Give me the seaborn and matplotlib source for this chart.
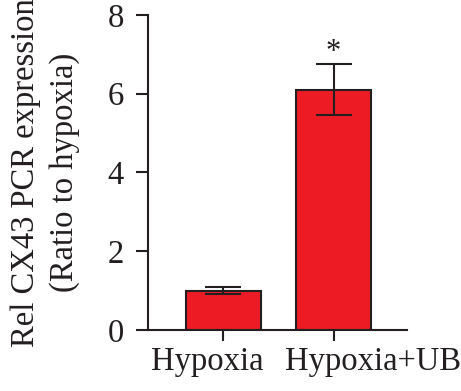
import matplotlib
matplotlib.use("Agg")
import matplotlib.pyplot as plt
import matplotlib.transforms as mtransforms
import seaborn as sns
import pandas as pd

categories = ["Hypoxia", "Hypoxia+UB"]
values = [1.0, 6.1]
errors = [0.09, 0.65]
yticks = [0, 2, 4, 6, 8]
ylabel = "Rel CX43 PCR expression\n(Ratio to hypoxia)"
annotation = "*"

sns.set_theme(style="ticks")
plt.rcParams["font.family"] = ["Liberation Serif", "DejaVu Serif"]

df = pd.DataFrame({"group": categories, "value": values})

fig = plt.figure(figsize=(4.61, 3.91), dpi=100)
ax = fig.add_axes([0.321, 0.156, 0.562, 0.806])

red = "#ED1C24"
dark = "#231F20"
fs = 23.5
sns.barplot(data=df, x="group", y="value", order=categories, color=red,
            saturation=1, width=0.68, errorbar=None, edgecolor=dark,
            linewidth=1.5, ax=ax)
ax.errorbar(x=range(len(categories)), y=values, yerr=errors, fmt="none",
            ecolor=dark, elinewidth=1.5, capsize=13, capthick=1.5, zorder=5)

ax.text(1, values[1] + errors[1] + 0.3, annotation, ha="center", va="center",
        fontsize=22, color=dark)

ax.set_xlim(-0.684, 0.666 + 1)
ax.set_ylim(0, 8)
ax.set_yticks(yticks)
ax.set_yticklabels([str(t) for t in yticks])
ax.set_xlabel("")
ax.set_ylabel(ylabel, fontsize=fs, linespacing=1.35, color=dark)
ax.yaxis.set_label_coords(-0.262, 0.5)
for s in ["top", "right"]:
    ax.spines[s].set_visible(False)
for s in ["left", "bottom"]:
    ax.spines[s].set_linewidth(1.5)
    ax.spines[s].set_color(dark)
ax.tick_params(axis="y", length=8.5, width=1.5, pad=9, labelsize=fs,
               colors=dark, direction="out")
ax.tick_params(axis="x", length=8, width=1.5, pad=4, labelsize=fs,
               colors=dark, direction="out")

# shift x tick labels horizontally as in the reference
shifts_px = [-16, 39]
for lab, dx in zip(ax.get_xticklabels(), shifts_px):
    lab.set_transform(lab.get_transform() +
                      mtransforms.ScaledTranslation(dx / 100, 0, fig.dpi_scale_trans))

fig.savefig("out.png", dpi=100)
